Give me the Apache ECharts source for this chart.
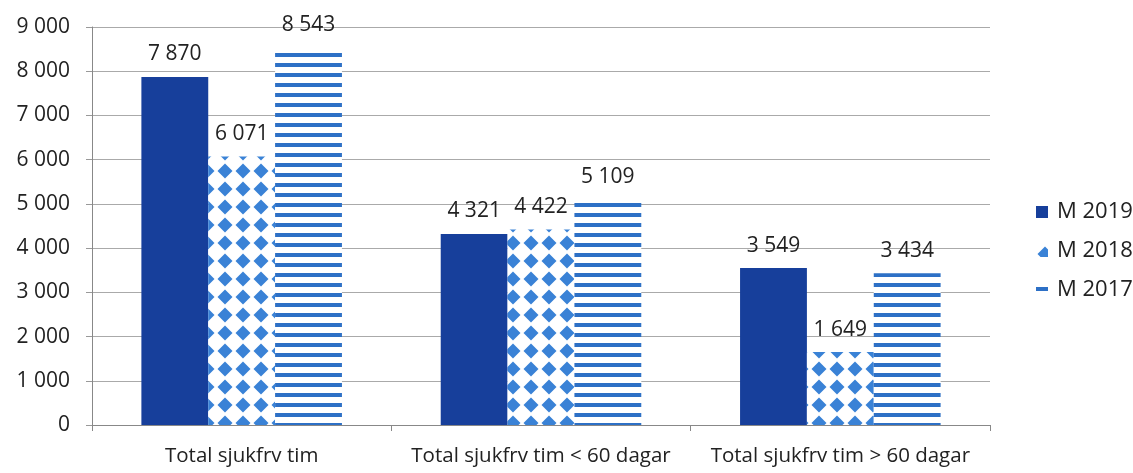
<!DOCTYPE html>
<html>
<head>
<meta charset="utf-8">
<script src="https://cdn.jsdelivr.net/npm/echarts@6/dist/echarts.min.js"></script>
<style>html,body{margin:0;padding:0;background:#fff}#c{width:1133px;height:473px}</style>
</head>
<body>
<div id="c"></div>
<script>
const categories = ['Total sjukfrv tim', 'Total sjukfrv tim < 60 dagar', 'Total sjukfrv tim > 60 dagar'];
const seriesNames = ['M 2019', 'M 2018', 'M 2017'];
const m2019 = [7870, 4321, 3549];
const m2018 = [6071, 4422, 1649];
const m2017 = [8543, 5109, 3434];
const yTicks = { min: 0, max: 9000, interval: 1000 };

function fmt(v) { return String(v).replace(/\B(?=(\d{3})+(?!\d))/g, ' '); }

function diamondPattern() {
  const c = document.createElement('canvas');
  c.width = 18; c.height = 18;
  const g = c.getContext('2d');
  g.fillStyle = '#ffffff'; g.fillRect(0, 0, 18, 18);
  g.fillStyle = '#3a82d6';
  const cx = 9, cy = 9;
  g.beginPath();
  g.moveTo(cx, cy - 7.5); g.lineTo(cx + 7.5, cy); g.lineTo(cx, cy + 7.5); g.lineTo(cx - 7.5, cy); g.closePath();
  g.fill();
  g.beginPath(); g.arc(cx, cy, 4.5, 0, Math.PI * 2); g.fill();
  return c;
}
function stripePattern() {
  const c = document.createElement('canvas');
  c.width = 10; c.height = 10;
  const g = c.getContext('2d');
  g.fillStyle = '#ffffff'; g.fillRect(0, 0, 10, 10);
  g.fillStyle = '#2d70c6';
  g.fillRect(0, 3, 10, 4);
  return c;
}

const font = '"Open Sans", "Noto Sans", sans-serif';
const chart = echarts.init(document.getElementById('c'));
const labelCfg = { show: true, position: 'top', distance: 12, color: '#222', fontSize: 21, fontFamily: font, formatter: p => fmt(p.value) };
chart.setOption({
  animation: false,
  grid: { left: 92, right: 143, top: 27, bottom: 48 },
  legend: {
    orient: 'vertical', left: 1031, top: 196, itemGap: 17, itemWidth: 12, itemHeight: 12,
    icon: 'rect',
    textStyle: { fontSize: 22, color: '#222', fontFamily: font, padding: [0, 0, 0, 4] },
    data: seriesNames
  },
  xAxis: {
    type: 'category', data: categories,
    axisLine: { lineStyle: { color: '#888' } },
    axisTick: { show: true, length: 6, lineStyle: { color: '#888' } },
    axisLabel: { interval: 0, hideOverlap: false, fontSize: 20.5, color: '#222', fontFamily: font, margin: 21 }
  },
  yAxis: {
    type: 'value', min: yTicks.min, max: yTicks.max, interval: yTicks.interval,
    axisLine: { show: true, lineStyle: { color: '#888' } },
    axisTick: { show: true, length: 6, lineStyle: { color: '#999' } },
    splitLine: { lineStyle: { color: '#aaa' } },
    axisLabel: { fontSize: 21, color: '#222', fontFamily: font, margin: 22, formatter: v => fmt(v) }
  },
  series: [
    { name: seriesNames[0], type: 'bar', data: m2019, barGap: '0%', barCategoryGap: '33%',
      itemStyle: { color: '#173f9b' }, label: labelCfg },
    { name: seriesNames[1], type: 'bar', data: m2018,
      itemStyle: { color: { image: diamondPattern(), repeat: 'repeat' } }, label: labelCfg },
    { name: seriesNames[2], type: 'bar', data: m2017,
      itemStyle: { color: { image: stripePattern(), repeat: 'repeat' } }, label: labelCfg }
  ]
});
</script>
</body>
</html>
